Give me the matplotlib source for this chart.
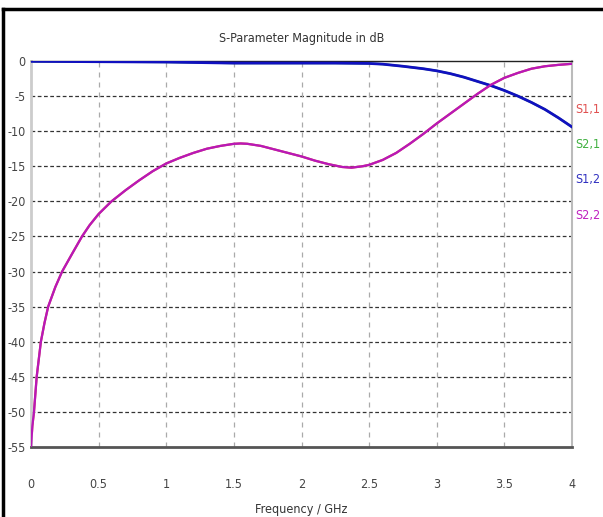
import numpy as np
import matplotlib
matplotlib.use('Agg')
import matplotlib.pyplot as plt
from matplotlib.lines import Line2D

# S-parameter magnitudes (dB) versus frequency (GHz)
freq_s22 = [0.0, 0.01, 0.022, 0.042, 0.073, 0.1, 0.127, 0.18, 0.23, 0.3, 0.377, 0.433,
            0.5, 0.595, 0.7, 0.8, 0.9, 1.0, 1.1, 1.2, 1.3, 1.4, 1.5, 1.55, 1.6, 1.7,
            1.8, 1.9, 2.0, 2.1, 2.2, 2.3, 2.37, 2.45, 2.5, 2.6, 2.7, 2.8, 2.9, 3.0,
            3.1, 3.2, 3.3, 3.4, 3.5, 3.6, 3.7, 3.8, 3.9, 4.0]
s22 = [-55.0, -52.0, -50.0, -45.0, -40.0, -37.3, -35.0, -32.2, -30.0, -27.6, -25.0, -23.4,
       -21.8, -20.0, -18.4, -17.0, -15.7, -14.6, -13.8, -13.1, -12.5, -12.1, -11.8, -11.75,
       -11.8, -12.1, -12.6, -13.1, -13.6, -14.2, -14.7, -15.1, -15.2, -15.0, -14.8, -14.1,
       -13.1, -11.8, -10.4, -8.9, -7.5, -6.1, -4.7, -3.4, -2.4, -1.7, -1.1, -0.75, -0.55,
       -0.4]
s11 = s22

freq_s12 = [0.0, 0.5, 1.0, 1.5, 2.0, 2.25, 2.5, 2.6, 2.75, 2.9, 3.0, 3.1, 3.2, 3.3, 3.4,
            3.5, 3.6, 3.7, 3.8, 3.9, 4.0]
s12 = [-0.05, -0.1, -0.15, -0.3, -0.3, -0.3, -0.35, -0.45, -0.75, -1.1, -1.4, -1.8, -2.3,
       -2.9, -3.5, -4.2, -5.0, -5.9, -6.9, -8.1, -9.4]
s21 = s12

x_ticks = [0, 0.5, 1, 1.5, 2, 2.5, 3, 3.5, 4]
x_labels = ['0', '0.5', '1', '1.5', '2', '2.5', '3', '3.5', '4']
y_ticks = list(range(0, -60, -5))

names = ['S1,1', 'S2,1', 'S1,2', 'S2,2']
colors = ['#e05050', '#40b040', '#3030c0', '#c020c0']

plt.rcParams['font.family'] = ['DejaVu Sans']
plt.rcParams['font.stretch'] = 'condensed'

fig = plt.figure(figsize=(6.03, 5.17), dpi=100)
ax = fig.add_axes([31 / 603, 1 - 447 / 517, 541 / 603, 386 / 517])

# hidden traces first, identical traces drawn over them
ax.plot(freq_s22, s11, color=colors[0], lw=1.6)
ax.plot(freq_s12, s21, color=colors[1], lw=1.6)
ax.plot(freq_s12, s12, color='#1010c0', lw=2.0, zorder=4)
ax.plot(freq_s22, s22, color='#b818b8', lw=1.6, zorder=4)

ax.set_xlim(0, 4)
ax.set_ylim(-55, 0)
ax.set_xticks(x_ticks)
ax.set_xticklabels(x_labels)
ax.set_yticks(y_ticks)
ax.set_yticklabels([str(v) for v in y_ticks])

for v in y_ticks[1:-1]:
    ax.axhline(v, color='#333333', lw=0.9, ls=(0, (3, 2)), zorder=1)
for v in x_ticks[1:-1]:
    ax.axvline(v, color='#aaaaaa', lw=0.9, ls=(0, (4, 4)), zorder=1)

ax.tick_params(axis='both', length=0, labelsize=9, colors='#444444')
ax.tick_params(axis='x', pad=22)
ax.tick_params(axis='y', pad=4)

ax.spines['bottom'].set_color('#555555')
ax.spines['bottom'].set_linewidth(2.0)
ax.spines['top'].set_color('#222222')
ax.spines['top'].set_linewidth(1.0)
ax.spines['left'].set_color('#cccccc')
ax.spines['left'].set_linewidth(2.0)
ax.spines['right'].set_color('#bbbbbb')
ax.spines['right'].set_linewidth(1.5)

ax.set_title('S-Parameter Magnitude in dB', fontsize=9, color='#333333', pad=14)
ax.set_xlabel('Frequency / GHz', fontsize=9, color='#333333', labelpad=9)

# trace names at the right edge
for i, (n, c) in enumerate(zip(names, colors)):
    fig.text(588 / 603, 1 - (110 + 35 * i) / 517, n, color=c, fontsize=9,
             ha='center', va='center')

# page frame
fig.add_artist(Line2D([3 / 603, 3 / 603], [0, 1 - 9 / 517], color='black', lw=2.5,
                      transform=fig.transFigure))
fig.add_artist(Line2D([3 / 603, 1], [1 - 9 / 517, 1 - 9 / 517], color='black', lw=2.5,
                      transform=fig.transFigure))

fig.savefig('out.png', dpi=100)
